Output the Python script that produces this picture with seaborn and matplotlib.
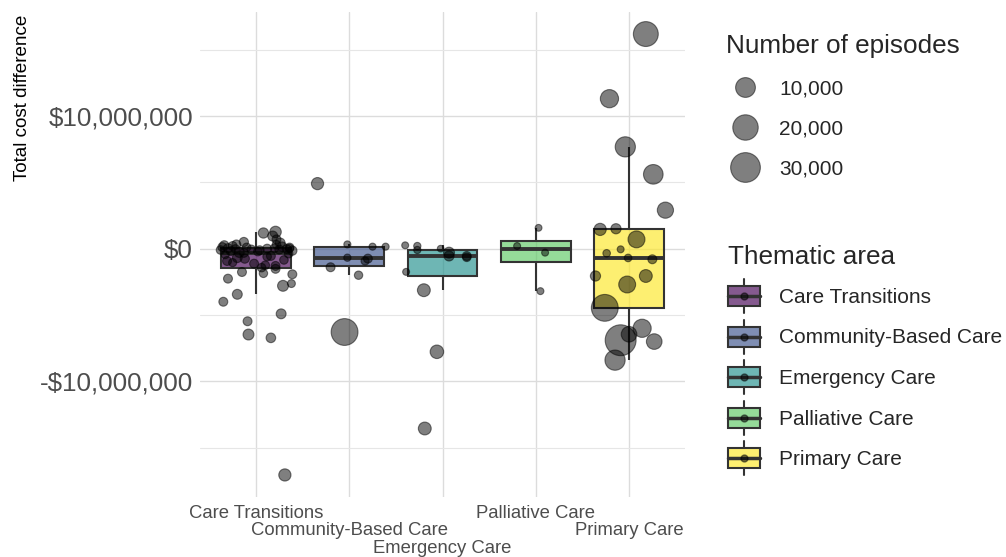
import numpy as np
import pandas as pd
import matplotlib.pyplot as plt
import matplotlib.colors as mcolors
import seaborn as sns
from matplotlib.legend_handler import HandlerBase
from matplotlib.patches import Rectangle, Patch
from matplotlib.lines import Line2D
from matplotlib.ticker import FuncFormatter, MultipleLocator

sns.set_style('white')
plt.rcParams['font.family'] = ['Liberation Sans', 'DejaVu Sans']

areas = ['Care Transitions', 'Community-Based Care', 'Emergency Care',
         'Palliative Care', 'Primary Care']
area_colors = ['#440154', '#3B528B', '#21908C', '#5DC863', '#FDE725']

# --- data: cost difference ($M), jitter (category units), episodes
ct_cost = [-17.05, -6.72, -6.47, -5.47, -4.91, -4.0, -3.44, -2.8, -2.63, -2.26,
           -1.93, -1.86, -1.76, -1.52, -1.43, -1.3, -1.25, -1.13, -1.05, -0.93,
           -0.85, -0.75, -0.68, -0.6, -0.55, -0.45, -0.38, -0.32, -0.28, -0.22,
           -0.18, -0.15, -0.12, -0.1, -0.07, -0.05, -0.03, -0.02, 0.0, 0.02,
           0.03, 0.04, 0.08, 0.1, 0.12, 0.15, 0.2, 0.25, 0.3, 0.32,
           0.43, 0.5, 0.7, 0.95, 1.18, 1.26]
ct_jitter = [0.31, 0.16, -0.08, -0.09, 0.27, -0.35, -0.20, 0.29, 0.38, -0.30,
             0.39, 0.08, -0.15, 0.21, 0.06, 0.21, 0.10, -0.02, -0.25, -0.31,
             0.30, -0.12, -0.20, 0.12, 0.16, -0.33, 0.35, -0.13, -0.18, 0.02,
             -0.27, 0.39, 0.04, -0.38, 0.25, -0.05, 0.33, -0.22, 0.12, 0.36,
             -0.30, 0.20, 0.36, -0.10, -0.36, 0.28, -0.25, -0.34, 0.22, -0.21,
             0.26, -0.13, 0.22, 0.18, 0.08, 0.21]
ct_episodes = [1950, 620, 1200, 400, 740, 400, 740, 1200, 160, 400,
               400, 260, 400, 400, 300, 400, 300, 400, 200, 400,
               300, 500, 700, 300, 400, 200, 300, 400, 800, 300,
               400, 500, 400, 300, 400, 300, 400, 300, 400, 200,
               500, 300, 400, 300, 400, 600, 400, 500, 300, 400,
               700, 500, 400, 800, 900, 1500]

cb_cost = [4.9, 0.32, 0.15, 0.15, -0.68, -0.75, -0.93, -1.4, -2.0, -6.28]
cb_jitter = [-0.34, -0.02, 0.25, 0.39, -0.02, 0.20, 0.17, -0.20, 0.10, -0.05]
cb_episodes = [1950, 40, 40, 40, 60, 400, 200, 400, 250, 23000]

em_cost = [0.25, 0.2, -0.1, 0.0, -0.3, -0.55, -0.55, -0.65, -1.75, -3.13, -7.77, -13.55]
em_jitter = [-0.40, -0.27, -0.27, -0.02, 0.07, 0.07, 0.26, 0.26, -0.39, -0.20, -0.06, -0.19]
em_episodes = [30, 60, 60, 10, 1200, 800, 400, 300, 30, 2400, 2900, 2400]

pa_cost = [1.57, 0.2, -0.3, -3.2]
pa_jitter = [0.03, -0.20, 0.10, 0.05]
pa_episodes = [20, 30, 30, 30]

pc_cost = [16.17, 11.3, 7.67, 5.6, 2.9, 1.5, 1.45, 0.7, -0.05, -0.35, -0.7,
           -0.8, -2.06, -2.06, -2.7, -4.46, -6.0, -6.45, -6.9, -7.0, -8.4]
pc_jitter = [0.18, -0.21, -0.04, 0.26, 0.39, -0.14, -0.31, 0.08, -0.09, -0.24, -0.01,
             0.25, -0.36, 0.18, -0.02, -0.26, 0.14, 0.00, -0.09, 0.27, -0.15]
pc_episodes = [18900, 7800, 10600, 9700, 5400, 870, 1950, 6200, 30, 100, 100,
               400, 870, 2400, 6200, 23000, 7800, 4800, 33000, 4800, 10600]

size_breaks = [10000, 20000, 30000]

costs = [ct_cost, cb_cost, em_cost, pa_cost, pc_cost]
jitters = [ct_jitter, cb_jitter, em_jitter, pa_jitter, pc_jitter]
episodes = [ct_episodes, cb_episodes, em_episodes, pa_episodes, pc_episodes]

frames = []
for i, (name, c, j, e) in enumerate(zip(areas, costs, jitters, episodes)):
    frames.append(pd.DataFrame({'area': name, 'pos': i,
                                'cost': np.array(c) * 1e6,
                                'x': i + np.array(j),
                                'episodes': e}))
df = pd.concat(frames, ignore_index=True)


def marker_area(n):
    # ggplot-like size scale: diameter grows with sqrt(episodes)
    d_px = 7.3 + 4.3 * np.sqrt(np.asarray(n, dtype=float) / 1000)
    return (d_px * 0.72 - 0.8) ** 2


BOX_ALPHA = 0.65
EDGE = '#333333'
PT_COLOR = (0, 0, 0, 0.5)

fig = plt.figure(figsize=(10.06, 5.57), dpi=100)
ax = fig.add_axes([200 / 1006, 1 - 497 / 557, 485 / 1006, 485 / 557])

sns.boxplot(data=df, x='pos', y='cost', hue='area', hue_order=areas,
            palette=dict(zip(areas, area_colors)), saturation=1,
            native_scale=True, dodge=False, width=0.75, whis=1.5,
            showfliers=False, showcaps=False, linecolor=EDGE, linewidth=1.5,
            medianprops={'linewidth': 2.8}, legend=False, ax=ax)
for p in ax.patches:
    p.set_facecolor(mcolors.to_rgba(p.get_facecolor(), BOX_ALPHA))

sns.scatterplot(data=df, x='x', y='cost', s=marker_area(df['episodes']),
                color='black', alpha=0.5, edgecolor='black', linewidth=0.8,
                legend=False, ax=ax, zorder=3)

# axes styling (theme_minimal look)
lo, hi = df['cost'].min(), df['cost'].max()
pad = 0.05 * (hi - lo)
ax.set_ylim(lo - pad, hi + pad)
ax.set_xlim(-0.6, len(areas) - 0.4)
ax.yaxis.set_major_locator(MultipleLocator(10e6))
ax.yaxis.set_minor_locator(MultipleLocator(5e6))
ax.yaxis.set_major_formatter(FuncFormatter(
    lambda v, _: f"-${abs(v):,.0f}" if v < 0 else f"${v:,.0f}"))
ax.set_xticks(range(len(areas)))
ax.set_xticklabels(areas)
ax.grid(which='major', color='#dcdcdc', linewidth=1.0)
ax.grid(which='minor', axis='y', color='#e6e6e6', linewidth=0.8)
ax.set_axisbelow(True)
for s in ax.spines.values():
    s.set_visible(False)
ax.tick_params(axis='both', which='both', length=0)
ax.tick_params(axis='y', labelsize=18.7, labelcolor='#4d4d4d', pad=5)
ax.tick_params(axis='x', labelsize=13.3, labelcolor='#4d4d4d')
for i, t in enumerate(ax.xaxis.get_major_ticks()):
    t.set_pad(5.5 + 12.7 * (i % 3))
ax.set_xlabel('')
ax.set_ylabel('Total cost difference', fontsize=13.6, color='black', loc='top')
ax.yaxis.set_label_coords(-0.349, 0.994)

# legend: point size
size_handles = [Line2D([], [], ls='', marker='o', markersize=np.sqrt(marker_area(n)),
                       markerfacecolor=PT_COLOR, markeredgecolor=PT_COLOR,
                       markeredgewidth=0.8) for n in size_breaks]
leg1 = fig.legend(size_handles, [f'{n:,}' for n in size_breaks],
                  title='Number of episodes', loc='upper left',
                  bbox_to_anchor=(726 / 1006, 1 - 34 / 557), frameon=False,
                  fontsize=15, title_fontsize=18.8, alignment='left',
                  handlelength=1.8, handletextpad=0.75, labelspacing=1.02,
                  borderpad=0, borderaxespad=0)


class BoxKey(HandlerBase):
    def create_artists(self, legend, orig_handle, xdescent, ydescent,
                       width, height, fontsize, trans):
        x0, y0 = -xdescent, -ydescent
        cx, cy = x0 + width / 2, y0 + height / 2
        bh, wl = 14.4, 5.0
        fc = mcolors.to_rgba(orig_handle.get_facecolor(), BOX_ALPHA)
        rect = Rectangle((x0, cy - bh / 2), width, bh, facecolor=fc,
                         edgecolor=EDGE, linewidth=1.5, transform=trans)
        up = Line2D([cx, cx], [cy + bh / 2, cy + bh / 2 + wl], color=EDGE,
                    linewidth=1.5, transform=trans)
        down = Line2D([cx, cx], [cy - bh / 2, cy - bh / 2 - wl], color=EDGE,
                      linewidth=1.5, transform=trans)
        med = Line2D([x0, x0 + width], [cy, cy], color=EDGE, linewidth=2.5,
                     transform=trans)
        dot = Line2D([cx], [cy], ls='', marker='o', markersize=5,
                     markerfacecolor=PT_COLOR, markeredgecolor=PT_COLOR,
                     transform=trans)
        return [rect, up, down, med, dot]


area_handles = [Patch(facecolor=c) for c in area_colors]
leg2 = fig.legend(area_handles, areas, title='Thematic area', loc='upper left',
                  bbox_to_anchor=(728 / 1006, 1 - 245 / 557), frameon=False,
                  fontsize=15, title_fontsize=18.8, alignment='left',
                  handlelength=1.54, handleheight=1.6, handletextpad=0.91,
                  labelspacing=0.66, borderpad=0, borderaxespad=0,
                  handler_map={Patch: BoxKey()})

plt.savefig('out.png', dpi=100)
plt.close()
